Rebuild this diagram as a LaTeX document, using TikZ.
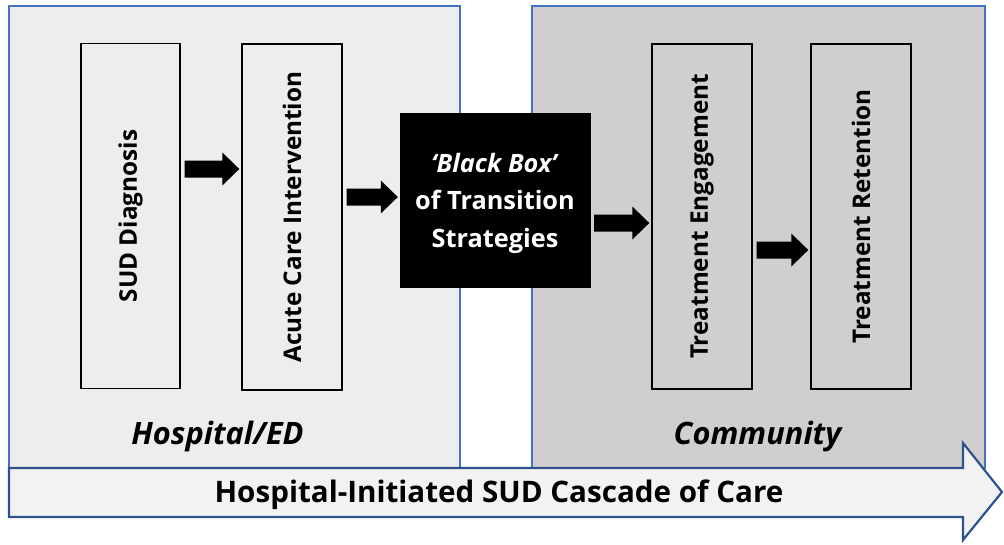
\documentclass[tikz,border=0pt]{standalone}
\usepackage{fontspec}
\setmainfont{Open Sans}
\usetikzlibrary{calc}
\definecolor{panelL}{HTML}{EDEDED}
\definecolor{panelR}{HTML}{D0CECE}
\definecolor{arrowfill}{HTML}{F2F2F2}
\definecolor{panelline}{HTML}{4472C4}
\definecolor{arrowline}{HTML}{2F528F}
\newcommand\blkarrow[2]{%
  \fill[black] let \p1=(#1), \p2=(#2) in
    (\x1+4pt,\y1+8.5pt) -- (\x2-19pt,\y1+8.5pt) -- (\x2-19pt,\y1+16.5pt)
    -- (\x2-2pt,\y1) -- (\x2-19pt,\y1-16.5pt) -- (\x2-19pt,\y1-8.5pt)
    -- (\x1+4pt,\y1-8.5pt) -- cycle;}
\tikzset{
  panel/.style={draw=panelline, line width=1.3pt},
  stagebox/.style={draw=black, line width=1.4pt, inner sep=0pt},
  stagetext/.style={rotate=90, font=\fontsize{24.3}{30}\selectfont\bfseries},
  panellabel/.style={anchor=base, font=\fontsize{30.8}{36}\selectfont\bfseries\itshape},
}
\begin{document}
\begin{tikzpicture}[x=1pt,y=-1pt]
\useasboundingbox (0,0) rectangle (1004,544);
% panels
\draw[panel, fill=panelL] (9,6) rectangle (460,468);
\draw[panel, fill=panelR] (532,6) rectangle (985,468);
% stage boxes
\node[stagebox, minimum width=99pt, minimum height=345pt] (s1) at (130.5,216) {};
\node[stagebox, minimum width=100pt, minimum height=346pt] (s2) at (292,217) {};
\node[stagebox, minimum width=100pt, minimum height=345pt] (s3) at (702,216.5) {};
\node[stagebox, minimum width=100pt, minimum height=345pt] (s4) at (861,216.5) {};
\node[stagetext] (t1) at (s1) {SUD Diagnosis};
\node[stagetext] (t2) at (s2) {Acute Care Intervention};
\node[stagetext] (t3) at (s3) {Treatment Engagement};
\node[stagetext] (t4) at (s4) {Treatment Retention};
% black box
\node[fill=black, draw=black, minimum width=190pt, minimum height=174pt, inner sep=0pt] (bb) at (495,200) {};
\node[text=white, align=center, font=\fontsize{25.3}{37.5}\selectfont\bfseries] (bbt) at ([yshift=-3pt]bb.center)
      {\textit{‘Black Box’}\\of Transition\\Strategies};
% block arrows
\coordinate (y1) at (0,169);
\coordinate (y2) at (0,197);
\coordinate (y3) at (0,223);
\coordinate (y4) at (0,250);
\blkarrow{s1.east |- y1}{s2.west}
\blkarrow{s2.east |- y2}{bb.west}
\blkarrow{bb.east |- y3}{s3.west}
\blkarrow{s3.east |- y4}{s4.west}
% panel labels
\node[panellabel] (hl) at (217.5,444) {Hospital/ED};
\node[panellabel] (cl) at (757.5,444) {Community};
% cascade arrow
\draw[draw=arrowline, fill=arrowfill, line width=2.2pt, line join=miter]
  (9,468) -- (963,468) -- (963,443) -- (1002,492) -- (963,540) -- (963,517) -- (9,517) -- cycle;
\node[anchor=base, font=\fontsize{29.6}{36}\selectfont\bfseries] (cas) at (499,502)
  {Hospital-Initiated SUD Cascade of Care};
\end{tikzpicture}
\end{document}
